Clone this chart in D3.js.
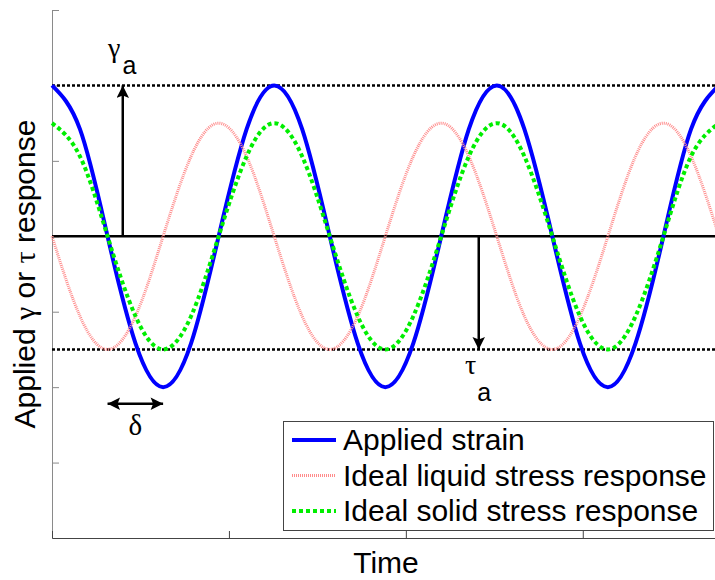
<!DOCTYPE html>
<html>
<head>
<meta charset="utf-8">
<script src="https://cdn.jsdelivr.net/npm/d3@7"></script>
<style>
  body { margin: 0; background: #fff; }
  svg { display: block; }
  text { fill: #000; }
</style>
</head>
<body>
<div class="chart"></div>
<script>
// time samples (radians), one every quarter of a half-cycle
const time = [0, 0.79, 1.57, 2.36, 3.14, 3.93, 4.71, 5.50, 6.28, 7.07, 7.85, 8.64, 9.42,
  10.21, 11.00, 11.78, 12.57, 13.35, 14.14, 14.92, 15.71, 16.49, 17.28, 18.06, 18.85];
const strain = [1, 0.71, 0, -0.71, -1, -0.71, 0, 0.71, 1, 0.71, 0, -0.71, -1,
  -0.71, 0, 0.71, 1, 0.71, 0, -0.71, -1, -0.71, 0, 0.71, 1];
const liquid = [0, -0.53, -0.75, -0.53, 0, 0.53, 0.75, 0.53, 0, -0.53, -0.75, -0.53, 0,
  0.53, 0.75, 0.53, 0, -0.53, -0.75, -0.53, 0, 0.53, 0.75, 0.53, 0];
const solid = [0.75, 0.53, 0, -0.53, -0.75, -0.53, 0, 0.53, 0.75, 0.53, 0, -0.53, -0.75,
  -0.53, 0, 0.53, 0.75, 0.53, 0, -0.53, -0.75, -0.53, 0, 0.53, 0.75];
const xTicks = [0, 5, 10, 15];
const yTicks = [-2, -1.5, -1, -0.5, 0, 0.5, 1, 1.5];
const legendLabels = ["Applied strain", "Ideal liquid stress response", "Ideal solid stress response"];
const refLevels = [1, -0.75];          // gamma_a and tau_a dotted lines
const gammaArrow = [2.0, 0, 1];        // t, from, to
const tauArrow = [12.06, 0, -0.75];
const deltaArrow = [1.57, 3.14, -1.11]; // from t, to t, level

const W = 715, H = 580;
const margin = { top: 10, left: 52, bottom: 42 };
const sans = '"Liberation Sans", Arial, sans-serif';
const greek = '"Liberation Serif", "DejaVu Serif", serif';

const svg = d3.select('.chart').append('svg').attr('width', W).attr('height', H)
  .style('font-family', sans);

const x = d3.scaleLinear().domain([0, 18.85]).range([margin.left, 719]);
const y = d3.scaleLinear().domain([-2, 1.5]).range([H - margin.bottom, margin.top]);

const defs = svg.append('defs');
defs.append('marker').attr('id', 'head')
  .attr('viewBox', '0 0 10 10').attr('refX', 10).attr('refY', 5)
  .attr('markerWidth', 5.5).attr('markerHeight', 5).attr('orient', 'auto-start-reverse')
  .attr('markerUnits', 'strokeWidth')
  .append('path').attr('d', 'M0,0 L10,5 L0,10 L2,5 Z').attr('fill', '#000');

// axes
svg.append('g')
  .attr('transform', 'translate(' + margin.left + ',0)')
  .call(d3.axisLeft(y).tickValues(yTicks).tickSize(-7).tickSizeOuter(0).tickFormat(''))
  .call(g => g.selectAll('path, line').attr('stroke', '#8a8a8a'));
svg.append('g')
  .attr('transform', 'translate(0,' + (H - margin.bottom) + ')')
  .call(d3.axisBottom(x).tickValues(xTicks).tickSize(-7).tickSizeOuter(0).tickFormat(''))
  .call(g => g.selectAll('path, line').attr('stroke', '#444'));

// reference lines
svg.append('line')
  .attr('x1', x(0)).attr('x2', W).attr('y1', y(0)).attr('y2', y(0))
  .attr('stroke', '#000').attr('stroke-width', 2.5);
svg.selectAll('.ref').data(refLevels).enter().append('line')
  .attr('x1', x(0)).attr('x2', W).attr('y1', d => y(d)).attr('y2', d => y(d))
  .attr('stroke', '#000').attr('stroke-width', 2.5).attr('stroke-dasharray', '3,2');

// curves
const line = d3.line()
  .x((d, i) => x(time[i]))
  .y(d => y(d))
  .curve(d3.curveNatural);

svg.append('path').datum(strain)
  .attr('fill', 'none').attr('stroke', '#0000ff').attr('stroke-width', 4).attr('d', line);
svg.append('path').datum(liquid)
  .attr('fill', 'none').attr('stroke', '#ff8c8c').attr('stroke-width', 3)
  .attr('stroke-dasharray', '1,1').attr('d', line);
svg.append('path').datum(solid)
  .attr('fill', 'none').attr('stroke', '#00ee00').attr('stroke-width', 4)
  .attr('stroke-dasharray', '4,3').attr('d', line);

// arrows
svg.append('line')
  .attr('x1', x(gammaArrow[0])).attr('x2', x(gammaArrow[0]))
  .attr('y1', y(gammaArrow[1])).attr('y2', y(gammaArrow[2]))
  .attr('stroke', '#000').attr('stroke-width', 2.5).attr('marker-end', 'url(#head)');
svg.append('line')
  .attr('x1', x(tauArrow[0])).attr('x2', x(tauArrow[0]))
  .attr('y1', y(tauArrow[1])).attr('y2', y(tauArrow[2]))
  .attr('stroke', '#000').attr('stroke-width', 2.5).attr('marker-end', 'url(#head)');
svg.append('line')
  .attr('x1', x(deltaArrow[0])).attr('x2', x(deltaArrow[1]))
  .attr('y1', y(deltaArrow[2])).attr('y2', y(deltaArrow[2]))
  .attr('stroke', '#000').attr('stroke-width', 2.5)
  .attr('marker-start', 'url(#head)').attr('marker-end', 'url(#head)');

// annotation labels
const g1 = svg.append('text').attr('x', 108).attr('y', 57).attr('font-size', 28);
g1.append('tspan').style('font-family', greek).text('γ');
g1.append('tspan').attr('dx', 2).attr('dy', 17).attr('font-size', 25).text('a');

const g2 = svg.append('text').attr('x', 465).attr('y', 374).attr('font-size', 28);
g2.append('tspan').style('font-family', greek).text('τ');
g2.append('tspan').attr('dx', 1).attr('dy', 27).attr('font-size', 25).text('a');

svg.append('text').attr('x', x((deltaArrow[0] + deltaArrow[1]) / 2)).attr('y', 435)
  .attr('text-anchor', 'middle').style('font-family', greek).attr('font-size', 29).text('δ');

// axis labels
svg.append('text').attr('x', 386).attr('y', 573).attr('text-anchor', 'middle')
  .attr('font-size', 30).text('Time');
const yl = svg.append('text').attr('transform', 'translate(35,274) rotate(-90)')
  .attr('text-anchor', 'middle').attr('font-size', 30);
yl.append('tspan').text('Applied ');
yl.append('tspan').style('font-family', greek).text('γ');
yl.append('tspan').text(' or ');
yl.append('tspan').style('font-family', greek).text('τ');
yl.append('tspan').text(' response');

// legend
const legend = svg.append('g');
legend.append('rect').attr('x', 283.5).attr('y', 421.5).attr('width', 430).attr('height', 109)
  .attr('fill', '#fff').attr('stroke', '#444').attr('stroke-width', 1);
const legendStyles = [
  { stroke: '#0000ff', width: 4, dash: null },
  { stroke: '#ff8c8c', width: 3, dash: '1,1' },
  { stroke: '#00ee00', width: 4, dash: '4,3' }
];
const rows = legend.selectAll('.row').data(legendLabels).enter().append('g')
  .attr('transform', (d, i) => 'translate(0,' + (440 + i * 35.5) + ')');
rows.append('line').attr('x1', 292).attr('x2', 336).attr('y1', 0).attr('y2', 0)
  .attr('stroke', (d, i) => legendStyles[i].stroke)
  .attr('stroke-width', (d, i) => legendStyles[i].width)
  .attr('stroke-dasharray', (d, i) => legendStyles[i].dash);
rows.append('text').attr('x', 343).attr('y', 10).attr('font-size', 30).text(d => d);
</script>
</body>
</html>
